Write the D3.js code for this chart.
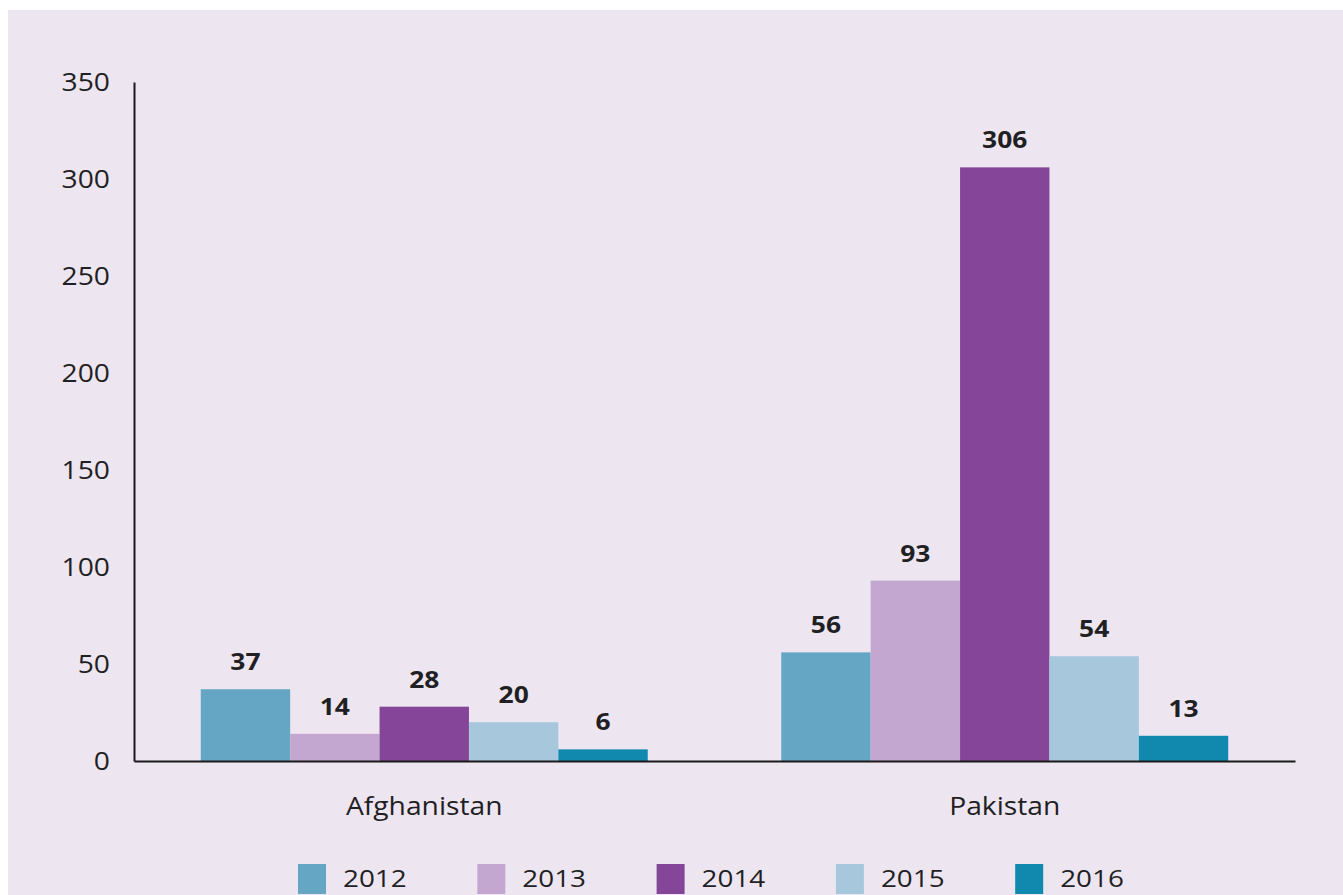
<!DOCTYPE html>
<html lang="en">
<head>
    <meta charset="UTF-8">
    <title>Afghanistan / Pakistan 2012-2016</title>
    <script src="https://d3js.org/d3.v7.min.js"></script>
    <style>
        body {
            margin: 0;
            background: #ffffff;
            font-family: "Open Sans", sans-serif;
        }
        svg text {
            fill: #1f1f24;
        }
    </style>
</head>
<body>
    <div id="chart"></div>

    <script>
        // data
        const countries = ["Afghanistan", "Pakistan"];
        const years = ["2012", "2013", "2014", "2015", "2016"];
        const afghanistan = [37, 14, 28, 20, 6];
        const pakistan = [56, 93, 306, 54, 13];
        const yTicks = [0, 50, 100, 150, 200, 250, 300, 350];
        const yearColors = ["#64a6c4", "#c3a7d1", "#854699", "#a7c7dc", "#1189ae"];

        const W = 1343, H = 895;
        const stretch = 1.13;

        const rows = countries.map((c, i) => ({
            country: c,
            values: years.map((y, j) => ({ year: y, value: [afghanistan, pakistan][i][j] }))
        }));

        const svg = d3.select("#chart").append("svg")
            .attr("width", W)
            .attr("height", H);

        // lavender panel
        svg.append("rect")
            .attr("x", 8).attr("y", 10)
            .attr("width", W - 8).attr("height", H - 10)
            .attr("fill", "#ede6f1");

        const x0 = d3.scaleBand().domain(countries).range([134, 1295])
            .paddingInner(0.23).paddingOuter(0.115);
        const x1 = d3.scaleBand().domain(years).range([0, x0.bandwidth()]);
        const y = d3.scaleLinear().domain([0, 350]).range([761, 82]);
        const color = d3.scaleOrdinal().domain(years).range(yearColors);

        // bars
        const groups = svg.selectAll(".grp")
            .data(rows)
            .enter().append("g")
            .attr("class", "grp")
            .attr("transform", d => `translate(${x0(d.country)},0)`);

        groups.selectAll("rect")
            .data(d => d.values)
            .enter().append("rect")
            .attr("x", d => x1(d.year))
            .attr("y", d => y(d.value))
            .attr("width", x1.bandwidth())
            .attr("height", d => y(0) - y(d.value))
            .attr("fill", d => color(d.year));

        groups.selectAll(".val")
            .data(d => d.values)
            .enter().append("text")
            .attr("class", "val")
            .attr("transform", d => `translate(${x1(d.year) + x1.bandwidth() / 2},${y(d.value) - 19}) scale(${stretch - 0.03},1)`)
            .attr("text-anchor", "middle")
            .style("font-size", "24px")
            .style("font-weight", "bold")
            .text(d => d.value);

        // y axis
        const yAxis = svg.append("g")
            .attr("transform", "translate(134,0)")
            .call(d3.axisLeft(y).tickValues(yTicks).tickSize(0).tickSizeOuter(0));
        yAxis.select(".domain").attr("stroke", "#1a1a1a").attr("stroke-width", 2);
        yAxis.selectAll("text")
            .attr("x", null)
            .attr("transform", `translate(-24,0) scale(${stretch},1)`)
            .attr("fill", "#1f1f24")
            .style("font-family", "'Open Sans', sans-serif")
            .style("font-size", "25px");

        // x axis
        const xAxis = svg.append("g")
            .attr("transform", "translate(0,761)")
            .call(d3.axisBottom(x0).tickSize(0).tickSizeOuter(0));
        xAxis.select(".domain").attr("stroke", "#1a1a1a").attr("stroke-width", 2);
        xAxis.selectAll("text")
            .attr("y", null).attr("dy", null)
            .attr("transform", `translate(0,54) scale(${stretch},1)`)
            .attr("fill", "#1f1f24")
            .style("font-family", "'Open Sans', sans-serif")
            .style("font-size", "25px");

        // legend
        const lx = d3.scaleBand().domain(years).range([298, 298 + 179.3 * years.length]);
        const legend = svg.selectAll(".leg")
            .data(years)
            .enter().append("g")
            .attr("class", "leg")
            .attr("transform", d => `translate(${lx(d)},864)`);

        legend.append("rect")
            .attr("width", 28).attr("height", 30)
            .attr("fill", d => color(d));

        legend.append("text")
            .attr("transform", `translate(45,23) scale(${stretch + 0.03},1)`)
            .style("font-size", "24px")
            .text(d => d);
    </script>
</body>
</html>
